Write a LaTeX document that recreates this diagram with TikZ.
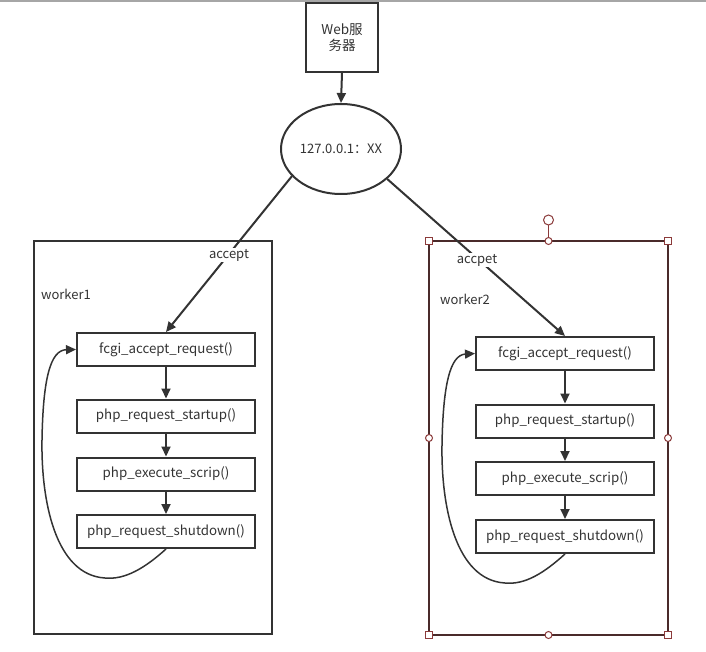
\documentclass[tikz,border=0pt]{standalone}
\usepackage{fontspec}
\setmainfont{Noto Sans CJK SC}
\usetikzlibrary{arrows.meta,shapes.geometric}
\definecolor{txt}{HTML}{333333}
\definecolor{ln}{HTML}{333333}
\definecolor{sel}{HTML}{8B3A3A}
\definecolor{selbox}{HTML}{4A2A2A}
\begin{document}
\begin{tikzpicture}[x=1pt,y=-1pt,
 box/.style={draw=ln,line width=2pt,minimum width=178pt,minimum height=33pt,inner sep=0pt,font=\fontsize{13.3}{15}\selectfont,text=txt},
 cont/.style={draw=ln,line width=2pt,inner sep=0pt},
 conn/.style={draw=ln,line width=2pt,-{Triangle[length=10pt,width=9pt]}},
 loopc/.style={draw=ln,line width=1.5pt,-{Triangle[length=10pt,width=9pt]}},
 lbl/.style={font=\fontsize{13}{15}\selectfont,text=txt,fill=white,inner sep=1pt},
 plain/.style={font=\fontsize{13}{15}\selectfont,text=txt,inner sep=0pt},
 handle/.style={draw=sel,fill=white,line width=1pt}]
\useasboundingbox (0,0) rectangle (706,652);
\draw[black!35, line width=2pt] (0,1) -- (706,1);

% web server
\node[cont, minimum width=72pt, minimum height=69pt, align=center, font=\fontsize{13.5}{16}\selectfont, text=txt] (web) at (342,37.5) {Web服\\务器};
\node[draw=ln, line width=2pt, ellipse, minimum width=120pt, minimum height=90pt, inner sep=0pt, font=\fontsize{13}{15}\selectfont, text=txt] (ip) at (341,149) {127.0.0.1：XX};
\draw[conn] (web.south) -- (ip.north);

% worker1
\node[cont, minimum width=238pt, minimum height=393pt] (w1) at (153,437.5) {};
\node[plain, anchor=west] (w1l) at (41,294) {worker1};
\node[box] (f1) at (166,349.5) {fcgi\_accept\_request()};
\node[box] (s1) at (166,416) {php\_request\_startup()};
\node[box] (e1) at (166,474) {php\_execute\_scrip()};
\node[box] (d1) at (166,531.5) {php\_request\_shutdown()};
\draw[conn] (f1) -- (s1);
\draw[conn] (s1) -- (e1);
\draw[conn] (e1) -- (d1);
\draw[loopc] (d1.south) .. controls (145,568) and (125,580) .. (105,578)
  .. controls (55,575) and (41,500) .. (42,440)
  .. controls (43,380) and (50,350) .. (f1.west);

% worker2
\node[draw=selbox, line width=2pt, inner sep=0pt, minimum width=239pt, minimum height=394pt] (w2) at (548.5,438) {};
\node[plain, anchor=west] (w2l) at (440,299) {worker2};
\node[box] (f2) at (565,353.5) {fcgi\_accept\_request()};
\node[box] (s2) at (565,421) {php\_request\_startup()};
\node[box] (e2) at (565,478.5) {php\_execute\_scrip()};
\node[box] (d2) at (565,536.5) {php\_request\_shutdown()};
\draw[conn] (f2) -- (s2);
\draw[conn] (s2) -- (e2);
\draw[conn] (e2) -- (d2);
\draw[loopc] (d2.south) .. controls (544,573) and (525,585) .. (505,583)
  .. controls (455,580) and (441,505) .. (442,445)
  .. controls (443,385) and (450,355) .. (f2.west);

% connectors from ip
\draw[conn] (ip.209) -- (f1.north);
\node[lbl] (acc1) at (229,255) {accept};
\draw[conn] (ip.327) -- (f2.north);
\node[lbl] (acc2) at (477,260) {accpet};

% selection handles
\draw[sel, line width=1pt] (548.5,241) -- (548.5,225);
\draw[handle] (548.5,220) circle (5pt);
\foreach \x/\y in {429/241,668/241,429/635,668/635}
  \draw[handle] (\x-3.5,\y-3.5) rectangle (\x+3.5,\y+3.5);
\foreach \x/\y in {548.5/241,548.5/635,429/438,668/438}
  \draw[handle] (\x,\y) circle (3.5pt);
\end{tikzpicture}
\end{document}
